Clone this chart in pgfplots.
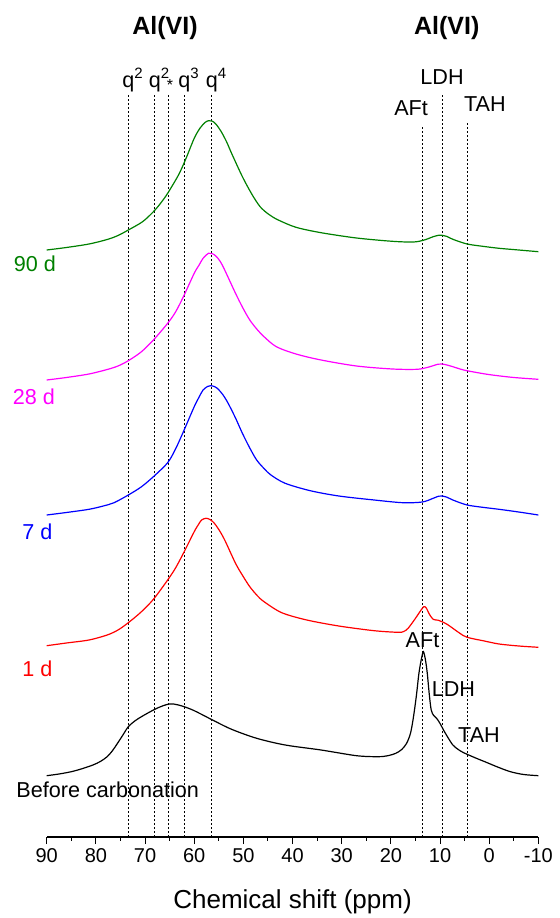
\documentclass[border=0pt]{standalone}
\usepackage{pgfplots}
\pgfplotsset{compat=1.18}
\usepackage{fontspec}
\setmainfont{Liberation Sans}
\definecolor{cgreen}{RGB}{0,128,0}
\definecolor{cmag}{RGB}{255,0,255}
\definecolor{cblue}{RGB}{0,0,255}
\definecolor{cred}{RGB}{255,0,0}
\newcommand{\lab}{\fontsize{10.8}{12}\selectfont}
\begin{document}
\begin{tikzpicture}
\begin{axis}[
  x=2.4585pt, y=0.5pt,
  xmin=-10, xmax=90, ymin=0, ymax=837,
  x dir=reverse,
  axis x line*=bottom, axis y line=none,
  x axis line style={-, line width=0.6pt},
  clip=false,
  xtick={90,80,...,-10},
  xticklabels={90,80,70,60,50,40,30,20,10,0,-10},
  minor x tick num=1,
  tick align=outside,
  major tick length=3.5pt, minor tick length=1.75pt,
  every tick/.style={black, line width=0.5pt},
  xticklabel style={font=\fontsize{10}{12}\selectfont, inner sep=0pt, yshift=-2pt},
  dl/.style={black, line width=0.45pt, dash pattern=on 1pt off 1pt},
  cv/.style={line width=0.6pt, smooth, tension=0.5},
]
% reference lines
\addplot[dl] coordinates {(73.4,0) (73.4,743)};
\addplot[dl] coordinates {(68.0,0) (68.0,743)};
\addplot[dl] coordinates {(65.2,0) (65.2,743)};
\addplot[dl] coordinates {(62.0,0) (62.0,743)};
\addplot[dl] coordinates {(56.4,0) (56.4,743)};
\addplot[dl] coordinates {(13.5,0) (13.5,712)};
\addplot[dl] coordinates {(9.6,0) (9.6,742)};
\addplot[dl] coordinates {(4.5,0) (4.5,715)};

% 90 d
\addplot[cv, cgreen] coordinates {
(90,587) (86,589.5) (81.4,593) (77.7,597.5) (75.5,601.5) (73.4,607) (70.5,615.3)
(68.3,625.3) (66.8,634) (65.4,643.7) (63.2,662) (61.8,677) (60.0,698.7) (58.8,709)
(57.8,714.5) (57.1,716.3) (56.4,716) (55.6,713) (54.5,705.3) (53.4,695) (52.4,683.7)
(50.2,660.3) (48.3,643) (46.6,630.3) (44.8,622.5) (42.9,617) (39.3,609.7) (34.2,604.3)
(27.0,599) (19.7,595.7) (15.4,595) (13.2,597) (11.4,600.3) (10.2,601.8) (9.6,601.7)
(8.6,600.5) (7.4,597.7) (4.5,593) (1,590.5) (-2.0,588.7) (-6,587) (-10,585.3)};
% 28 d
\addplot[cv, cmag] coordinates {
(90,457) (86,459.5) (81.4,463) (77.7,467.5) (75.5,471) (73.4,476.3) (70.8,485)
(68.3,497) (65.4,513.7) (63.8,525) (62.2,540.3) (60.0,563.7) (59.0,572) (58.2,578.7)
(57.1,583.7) (56.4,583.5) (55.6,581) (54.7,575.5) (53.8,567) (51.6,543.7) (50.1,529)
(48.7,517) (47.2,507.5) (45.8,500.3) (43.3,490.3) (39.3,483) (34.2,477) (27.0,471)
(19.7,468) (14.7,467.7) (12.5,469.7) (10.4,472.8) (9.6,473) (8.6,472) (7.4,470.3)
(5.2,467) (2,464) (-0.6,462) (-5,459.5) (-10,457.7)};
% 7 d
\addplot[cv, cblue] coordinates {
(90,322) (86,324.5) (81.4,327.7) (78.5,331) (76.3,334.3) (73.4,342) (70.8,350)
(68.3,360.3) (65.4,374.3) (63.8,388) (62.2,405.3) (60.0,430.3) (59.0,440) (58.2,447)
(57.3,450.5) (56.7,451.3) (55.9,450.5) (55.3,448.7) (54.2,442.5) (53.1,433.7) (51.6,419)
(50.2,403.7) (48.7,389) (47.3,377) (45.8,368.5) (44.4,362) (41.5,353.7) (36.4,346.3)
(30.6,341) (23.4,337) (17.6,334.3) (13.6,335) (11.4,338.7) (10.3,340.8) (9.6,341)
(8.6,339.8) (7.4,337) (4.5,332) (1,329.5) (-2.0,327.7) (-6,325) (-10,322)};
% 1 d
\addplot[cv, cred] coordinates {
(90,191.3) (86,194) (81.4,197) (77.7,202) (75.5,207) (73.4,214.3) (70.8,225)
(68.3,237.7) (65.4,257) (63.8,269) (62.2,283.7) (60.0,305.3) (59.2,312) (58.5,317)
(57.6,318.7) (56.8,317.5) (56.0,314.3) (55.0,307.5) (53.8,297) (51.6,273.7) (50.1,261)
(48.7,250.3) (47.2,241.5) (45.8,235.3) (42.2,224.3) (37.1,217) (30.6,211) (23.4,206.3)
(18.6,204.7) (17.4,205.5) (16.5,208.7) (15.0,218.7) (14.0,226) (13.3,230.3) (12.8,229)
(12.2,223) (11.4,217.7) (10.4,216.8) (9.6,215.3) (8.5,212.5) (7.4,208.7) (6,203.8)
(4.5,199.7) (1,196) (-2.0,193) (-6,191) (-10,189.7)};
% before carbonation
\addplot[cv, black] coordinates {
(90,61.3) (87.5,63) (85.0,65.3) (82.8,68.3) (80.6,72) (79.1,75.5) (77.7,80.3) (76.6,86.5)
(75.6,93.7) (74.5,102) (73.4,110.3) (72.0,116.3) (70.5,121) (67.6,128.7) (65.1,133)
(63.2,132) (60.3,127) (56.0,116.3) (52.4,107.7) (47.3,98.7) (41.5,92) (34.2,87)
(27.0,81.3) (22.6,80.3) (20.6,81.3) (19.0,83.7) (17.8,87.5) (16.8,93.7) (16.0,104)
(15.4,120.3) (14.8,142) (14.3,163.7) (13.8,178) (13.4,185.3) (13.0,178) (12.6,163.7)
(12.2,143) (11.8,127) (11.3,121.5) (10.7,118.7) (10.0,113.5) (9.3,107) (8.4,99.5)
(7.4,92) (6.3,87.5) (5.2,84.3) (3,79.5) (0.9,75.3) (-1.7,70) (-4.3,65.3) (-7,62.5) (-10,61.3)};

% annotations
\node[font=\fontsize{12.5}{14}\selectfont\bfseries] at (axis cs:65.94,808.7) {Al(VI)};
\node[font=\fontsize{12.5}{14}\selectfont\bfseries] at (axis cs:8.65,808.7) {Al(VI)};
\node[font=\lab, anchor=base, inner sep=0pt] at (axis cs:73.4,749.7) {q\rlap{\raisebox{0.75ex}{\fontsize{7.5}{8}\selectfont 2}}};
\node[font=\lab, anchor=base, inner sep=0pt] at (axis cs:68.0,749.7) {q\rlap{\raisebox{0.75ex}{\fontsize{7.5}{8}\selectfont 2}\kern-1.2pt\raisebox{-0.25ex}{\fontsize{8}{8}\selectfont *}}};
\node[font=\lab, anchor=base, inner sep=0pt] at (axis cs:62.0,749.7) {q\rlap{\raisebox{0.75ex}{\fontsize{7.5}{8}\selectfont 3}}};
\node[font=\lab, anchor=base, inner sep=0pt] at (axis cs:56.4,749.7) {q\rlap{\raisebox{0.75ex}{\fontsize{7.5}{8}\selectfont 4}}};
\node[font=\lab, inner sep=0pt] at (axis cs:15.9,729) {AFt};
\node[font=\lab, inner sep=0pt] at (axis cs:9.6,760) {LDH};
\node[font=\lab, inner sep=0pt] at (axis cs:0.9,733) {TAH};
\node[font=\lab, inner sep=0pt] at (axis cs:13.57,197) {AFt};
\node[font=\lab, inner sep=0pt] at (axis cs:7.27,147.7) {LDH};
\node[font=\lab, inner sep=0pt] at (axis cs:2.08,102) {TAH};
\node[font=\lab, inner sep=0pt, anchor=west, text=cgreen] at (axis cs:96.75,573.7) {90 d};
\node[font=\lab, inner sep=0pt, anchor=west, text=cmag] at (axis cs:96.96,440.3) {28 d};
\node[font=\lab, inner sep=0pt, anchor=west, text=cblue] at (axis cs:95.02,305.3) {7 d};
\node[font=\lab, inner sep=0pt, anchor=west, text=cred] at (axis cs:95.02,168.5) {1 d};
\node[font=\lab, inner sep=0pt, anchor=west] at (axis cs:96.24,47.7) {Before carbonation};
\node[font=\fontsize{13}{15}\selectfont, anchor=base, inner sep=0pt] at (axis cs:40,-71) {Chemical shift (ppm)};
\coordinate (BL) at (axis cs:99.50,-81);
\coordinate (TR) at (axis cs:-14.19,837);
\end{axis}
\pgfresetboundingbox
\useasboundingbox (BL) rectangle (TR);
\end{tikzpicture}
\end{document}
